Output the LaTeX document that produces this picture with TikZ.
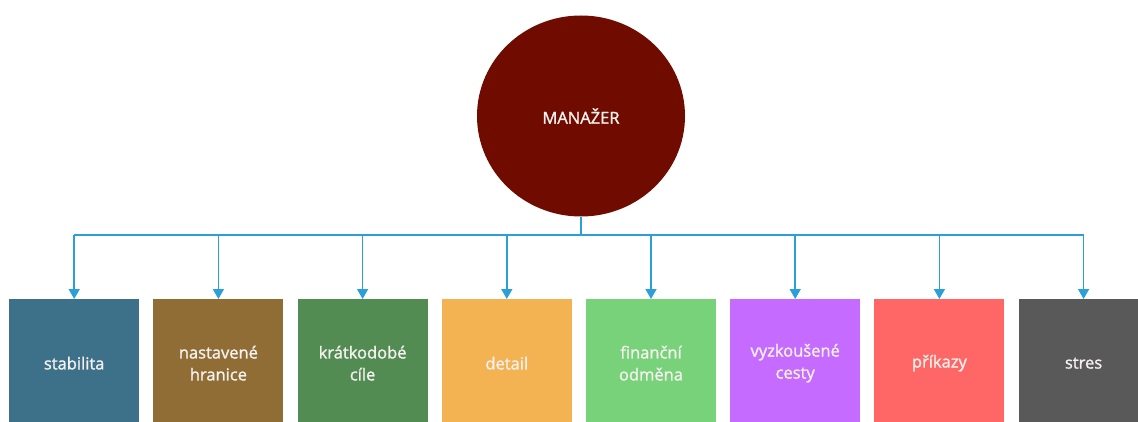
\documentclass[tikz,border=0pt]{standalone}
\usepackage{fontspec}
\setmainfont{Open Sans}
\newfontfamily\semi{Open Sans}[FakeBold=1.5]
\usetikzlibrary{arrows.meta,shapes.geometric}
\definecolor{linec}{HTML}{2A9FDA}
\definecolor{cm}{HTML}{700B00}
\definecolor{c1}{HTML}{3D7089}
\definecolor{c2}{HTML}{8F6D35}
\definecolor{c3}{HTML}{528C52}
\definecolor{c4}{HTML}{F4B352}
\definecolor{c5}{HTML}{78D27A}
\definecolor{c6}{HTML}{C66BFF}
\definecolor{c7}{HTML}{FF6666}
\definecolor{c8}{HTML}{595959}
\definecolor{txt}{HTML}{F4F0EE}
\tikzset{
  box/.style={rectangle, anchor=north west, minimum width=130pt, minimum height=128pt,
    inner sep=0pt, text=txt, align=center, font=\semi\fontsize{16.5}{22}\selectfont},
  conn/.style={draw=linec, line width=1.5pt},
  arr/.style={conn, -{Triangle[width=11pt,length=10pt]}},
}
\begin{document}
\begin{tikzpicture}[x=1pt,y=-1pt]
\path[use as bounding box] (0,0) rectangle (1138,422);
\clip (0,0) rectangle (1138,422);
\fill[white] (0,0) rectangle (1138,422);
\node[ellipse, fill=cm, minimum width=208pt, minimum height=201pt, inner sep=0pt,
  text=txt, font=\semi\fontsize{16.5}{18}\selectfont] (m) at (581,116) {MANAŽER};
\node[box, fill=c1] (b1) at (9.0,299) {stabilita};
\node[box, fill=c2] (b2) at (153.2,299) {nastavené\\hranice};
\node[box, fill=c3] (b3) at (297.4,299) {krátkodobé\\cíle};
\node[box, fill=c4] (b4) at (441.6,299) {detail};
\node[box, fill=c5] (b5) at (585.8,299) {finanční\\odměna};
\node[box, fill=c6] (b6) at (730.0,299) {vyzkoušené\\cesty};
\node[box, fill=c7] (b7) at (874.2,299) {příkazy};
\node[box, fill=c8] (b8) at (1018.4,299) {stres};
\coordinate (bus) at (581,235);
\draw[conn] (m.south) -- (bus);
\draw[conn] (b1.north |- bus) -- (b8.north |- bus);
\foreach \i in {1,...,8}{
  \draw[arr] (b\i.north |- bus) -- (b\i.north);
}
\end{tikzpicture}
\end{document}
